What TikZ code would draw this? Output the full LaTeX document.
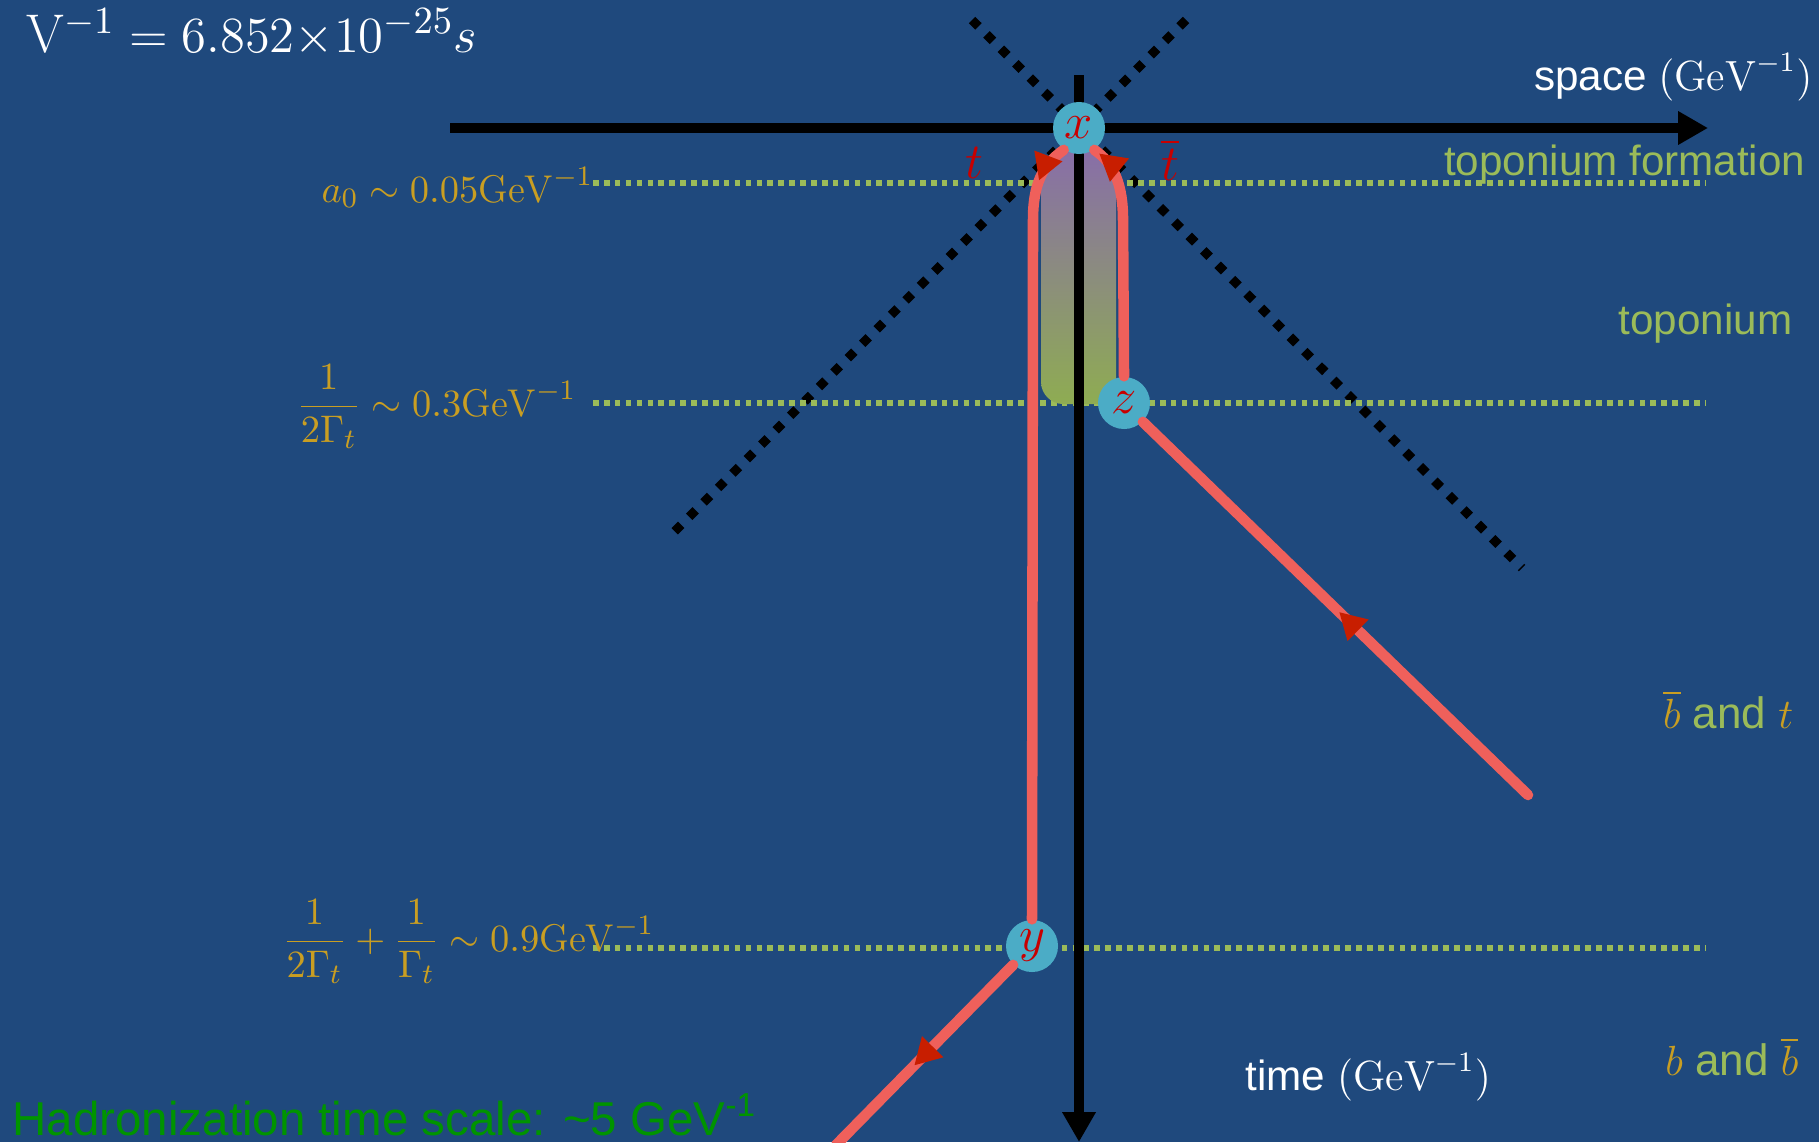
\documentclass[tikz,border=0pt]{standalone}
\usepackage{amsmath}
\usepackage{fontspec}
\setsansfont{Liberation Sans}
\usetikzlibrary{arrows.meta, decorations.markings, positioning}

\definecolor{slideblue}{RGB}{31, 73, 125}
\definecolor{nodecyan}{RGB}{75, 172, 198}
\definecolor{quarkred}{RGB}{239, 96, 91}
\definecolor{tipred}{RGB}{200, 30, 0}
\definecolor{labelred}{RGB}{200, 0, 0}
\definecolor{scalegold}{RGB}{201, 158, 34}
\definecolor{leafgreen}{RGB}{155, 187, 89}
\definecolor{hadgreen}{RGB}{0, 148, 0}
\definecolor{toppurple}{RGB}{136, 110, 168}

\begin{document}
\begin{tikzpicture}[x=0.01cm, y=-0.01cm,
    vertex/.style={circle, fill=nodecyan, minimum size=0.52cm, inner sep=0pt,
                   text=labelred, font=\fontsize{14}{14}\selectfont},
    axis/.style={line width=2.85pt, -{Triangle[length=8.5pt, width=9pt]}},
    cone/.style={line width=2.6pt, dash pattern=on 2.6pt off 3.2pt},
    scaleline/.style={leafgreen, line width=1.6pt, dash pattern=on 1.6pt off 1.5pt},
    quark/.style={quarkred, line width=3pt, line cap=round},
    fwd/.style={postaction={decorate, decoration={markings, mark=at position #1 with
                {\arrow{Triangle[color=tipred, length=7.5pt, width=8pt]}}}}},
    bwd/.style={postaction={decorate, decoration={markings, mark=at position #1 with
                {\arrowreversed{Triangle[color=tipred, length=7.5pt, width=8pt]}}}}},
    scalelabel/.style={anchor=base east, inner sep=0pt, text=scalegold,
                       font=\fontsize{11}{13}\selectfont},
    sidelabel/.style={anchor=base east, inner sep=0pt, font=\sffamily\fontsize{12}{14}\selectfont}
  ]
    \useasboundingbox (0,0) rectangle (1819,1142);
    \clip (0,0) rectangle (1819,1142);
    \fill[slideblue] (0,0) rectangle (1819,1142);

    % light cone
    \draw[cone] (972,20) -- (1522,568);
    \draw[cone] (1186,20) -- (669,537);

    % time scales
    \draw[scaleline] (593,183) -- (1705,183);
    \draw[scaleline] (593,403) -- (1705,403);
    \draw[scaleline] (593,948) -- (1705,948);

    % toponium band
    \shade[top color=toppurple, bottom color=leafgreen!92!black]
      (1041,190) .. controls (1041,162) and (1060,150) .. (1079,150)
      .. controls (1098,150) and (1116,162) .. (1116,190) -- (1116,404)
      -- (1063,404) .. controls (1051,404) and (1041,394) .. (1041,382) -- cycle;

    \coordinate (spaceL) at (450,128);
    \coordinate (spaceR) at (1708,128);
    \coordinate (timeT) at (1079,75);
    \coordinate (timeB) at (1079,1142);
    \draw[axis] (spaceL) -- (spaceR);
    \draw[axis] (timeT) -- (timeB);

    \node[vertex] (x) at (1079,128) {$x$};
    \node[vertex] (z) at (1124,403) {$z$};
    \node[vertex] (y) at (1032,946) {$y$};

    \coordinate (bbarEnd) at (1528,795);
    \coordinate (bEnd) at (836,1145);
    \draw[quark, fwd=0.40cm] (x.-125) .. controls (1042,165) and (1033,185) .. (1033,220) -- (y.north);
    \draw[quark, fwd=0.975] (z.north) -- (1123,220) .. controls (1123,185) and (1114,163) .. (x.-55);
    \draw[quark, bwd=2.73cm] (z.-45) -- (bbarEnd);
    \draw[quark, fwd=1.41cm] (y.-135) -- (bEnd);

    \node[text=labelred, font=\fontsize{14}{14}\selectfont] (tname) at (974,163) {$t$};
    \node[text=labelred, font=\fontsize{14}{14}\selectfont] (tbarname) at (1170,160) {$\overline{t}$};

    \node[scalelabel] (a0lab) at (594,202) {$a_0 \sim 0.05\mathrm{GeV}^{-1}$};
    \node[scalelabel] (halflab) at (577,416) {$\dfrac{1}{2\Gamma_t} \sim 0.3\mathrm{GeV}^{-1}$};
    \node[scalelabel] (sumlab) at (655,951)
      {$\dfrac{1}{2\Gamma_t} + \dfrac{1}{\Gamma_t} \sim 0.9\mathrm{GeV}^{-1}$};

    \node[anchor=base east, inner sep=0pt, text=white, font=\fontsize{15.5}{18}\selectfont]
      (unitlab) at (478,52) {$\mathrm{V}^{-1} = 6.852{\times}10^{-25}s$};

    \node[sidelabel, text=white] (spacelab) at (1813,90) {space $(\mathrm{GeV}^{-1})$};
    \node[sidelabel, text=leafgreen] (formlab) at (1806,175) {toponium formation};
    \node[sidelabel, text=leafgreen] (toplab) at (1793,334) {toponium};
    \node[sidelabel, text=scalegold, font=\sffamily\fontsize{12.5}{14}\selectfont] (btlab) at (1794,728)
      {$\overline{b}$ \textcolor{leafgreen}{and} $t$};
    \node[sidelabel, text=scalegold, font=\sffamily\fontsize{12.5}{14}\selectfont] (bblab) at (1799,1075)
      {$b$ \textcolor{leafgreen}{and} $\overline{b}$};
    \node[anchor=base west, inner sep=0pt, text=white, font=\sffamily\fontsize{12}{14}\selectfont]
      (timelab) at (1245,1090) {time $(\mathrm{GeV}^{-1})$};

    \node[anchor=base west, inner sep=0pt, text=hadgreen, font=\sffamily\fontsize{13.5}{15}\selectfont]
      (hadlab) at (12,1135) {Hadronization time scale: \textasciitilde5 GeV\textsuperscript{-1}};
\end{tikzpicture}
\end{document}
